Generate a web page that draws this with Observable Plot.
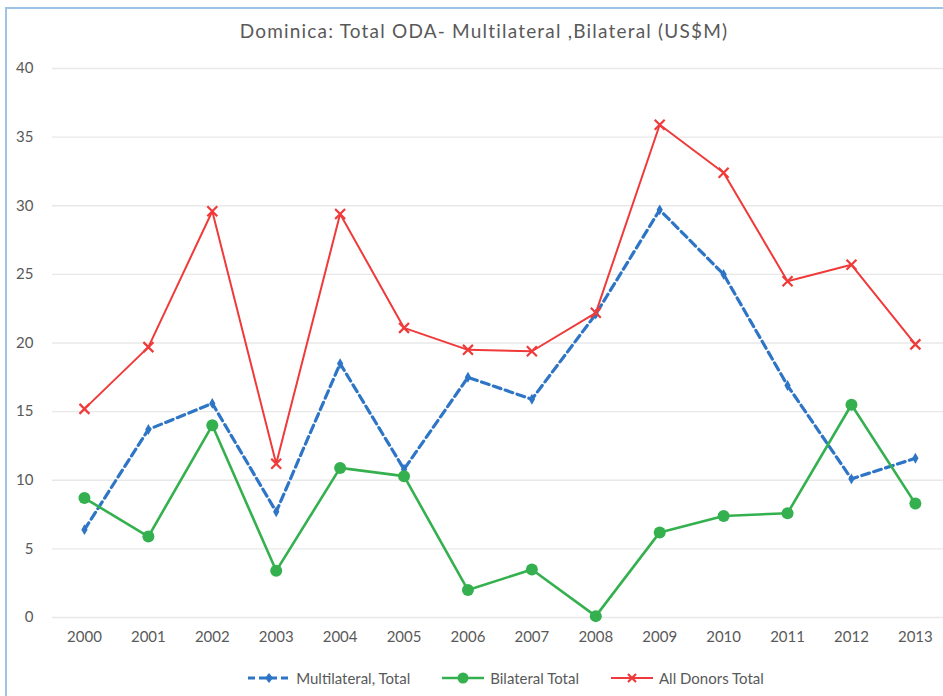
<!DOCTYPE html>
<html>
<head>
<meta charset="utf-8">
<script src="https://cdn.jsdelivr.net/npm/d3@7"></script>
<script src="https://cdn.jsdelivr.net/npm/@observablehq/plot@0.6"></script>
<style>
  html, body { margin: 0; padding: 0; background: #fff; overflow: hidden; }
  #frame { position: absolute; left: 5px; top: 7px; width: 950px; height: 700px;
           border-left: 2px solid #9dc3e6; border-top: 2px solid #9dc3e6; }
  #title { position: absolute; left: 0; top: 19px; width: 968px; text-align: center;
           font-family: Lato, "Open Sans", sans-serif; font-size: 19px; letter-spacing: 1.2px; color: #595959; }
  #chart { position: absolute; left: 0; top: 55px; }
  #legend { position: absolute; left: 0; top: 669px; width: 1010px; display: flex; justify-content: center; gap: 30px;
            font-family: Lato, "Open Sans", sans-serif; font-size: 15px; color: #595959; }
  #legend .item { display: flex; align-items: center; gap: 4px; }
</style>
</head>
<body>
<div id="frame"></div>
<div id="title">Dominica: Total ODA- Multilateral ,Bilateral (US$M)</div>
<div id="chart"></div>
<div id="legend"></div>
<script>
const years = [2000,2001,2002,2003,2004,2005,2006,2007,2008,2009,2010,2011,2012,2013];
const multilateral = [6.4,13.7,15.6,7.7,18.5,10.8,17.5,15.9,22.1,29.7,25.0,16.9,10.1,11.6];
const bilateral = [8.7,5.9,14.0,3.4,10.9,10.3,2.0,3.5,0.1,6.2,7.4,7.6,15.5,8.3];
const allDonors = [15.2,19.7,29.6,11.2,29.4,21.1,19.5,19.4,22.2,35.9,32.4,24.5,25.7,19.9];
const yTicks = [0,5,10,15,20,25,30,35,40];
const seriesNames = ["Multilateral, Total", "Bilateral Total", "All Donors Total"];

const colors = {blue: "#2e75c6", green: "#35b04f", red: "#f03a3a"};

const rows = (vals) => years.map((y, i) => ({year: y, value: vals[i]}));
const mRows = rows(multilateral), bRows = rows(bilateral), aRows = rows(allDonors);

const chart = Plot.plot({
  width: 943,
  height: 602,
  marginLeft: 52,
  marginRight: 0,
  marginTop: 13,
  marginBottom: 40,
  style: {fontFamily: "Lato, 'Open Sans', sans-serif", fontSize: "15px", color: "#595959", background: "transparent"},
  x: {type: "linear", domain: [1999.5, 2013.44], ticks: years, tickFormat: d => String(d), tickSize: 0, tickPadding: 14, label: null},
  y: {domain: [0, 40], ticks: yTicks, tickSize: 0, tickPadding: 19, label: null},
  marks: [
    Plot.ruleY(yTicks, {stroke: "#e8e8e8", strokeWidth: 1.3}),
    Plot.axisX({ticks: years, tickFormat: d => String(d), tickSize: 0, tickPadding: 14, fill: "#595959", fontSize: 15}),
    Plot.axisY({ticks: yTicks, tickSize: 0, tickPadding: 19, fill: "#595959", fontSize: 15}),
    Plot.line(mRows, {x: "year", y: "value", stroke: colors.blue, strokeWidth: 3.2, strokeDasharray: "8,4.5"}),
    Plot.dot(mRows, {x: "year", y: "value", symbol: "diamond", fill: colors.blue, r: 3.3}),
    Plot.line(bRows, {x: "year", y: "value", stroke: colors.green, strokeWidth: 2.6}),
    Plot.dot(bRows, {x: "year", y: "value", fill: colors.green, r: 6}),
    Plot.line(aRows, {x: "year", y: "value", stroke: colors.red, strokeWidth: 2}),
    Plot.dot(aRows, {x: "year", y: "value", symbol: "times", stroke: colors.red, strokeWidth: 2.2, r: 4.6})
  ]
});
document.getElementById("chart").appendChild(chart);

// legend
const legend = document.getElementById("legend");
const swatch = [
  `<svg width="46" height="14"><line x1="2" y1="7" x2="44" y2="7" stroke="${colors.blue}" stroke-width="3" stroke-dasharray="7,4"/><path d="M23,2 L27,7 L23,12 L19,7Z" fill="${colors.blue}"/></svg>`,
  `<svg width="46" height="14"><line x1="2" y1="7" x2="44" y2="7" stroke="${colors.green}" stroke-width="2.6"/><circle cx="23" cy="7" r="5.5" fill="${colors.green}"/></svg>`,
  `<svg width="46" height="14"><line x1="2" y1="7" x2="44" y2="7" stroke="${colors.red}" stroke-width="2"/><path d="M19,3 L27,11 M27,3 L19,11" stroke="${colors.red}" stroke-width="2.2"/></svg>`
];
seriesNames.forEach((name, i) => {
  const d = document.createElement("div");
  d.className = "item";
  d.innerHTML = swatch[i] + `<span>${name}</span>`;
  legend.appendChild(d);
});
</script>
</body>
</html>
